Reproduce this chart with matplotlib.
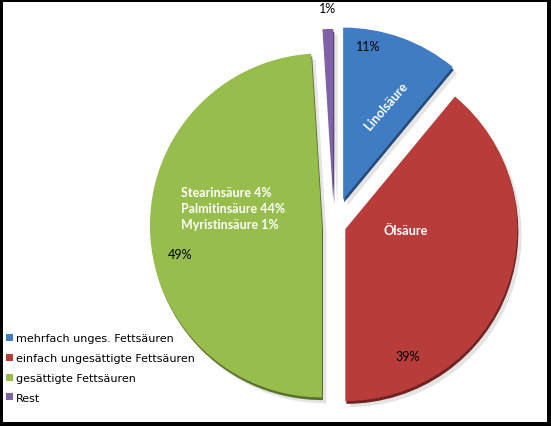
import matplotlib.pyplot as plt
import matplotlib.patches as mpatches
from matplotlib.colors import to_rgb

# data
shares = [11, 39, 49, 1]
legend_labels = ["mehrfach unges. Fettsäuren", "einfach ungesättigte Fettsäuren",
                 "gesättigte Fettsäuren", "Rest"]
pct_labels = ["11%", "39%", "49%", "1%"]
colors = ["#3f7cc4", "#b83c3a", "#97bd4c", "#8062a8"]
explode = [0.157, 0.07, 0.07, 0.14]
green_detail = "Stearinsäure 4%\nPalmitinsäure 44%\nMyristinsäure 1%"

W, H = 551, 427
CX, CY, R = 334, 226, 172  # pie centre / radius in pixels


def px(x, y):
    # pixel position (from top left) -> data coords
    return (x - CX) / R, (CY - y) / R


fig = plt.figure(figsize=(W / 100, H / 100), dpi=100)
fig.patch.set_facecolor("black")
fig.patches.append(mpatches.Rectangle((3 / W, 1 - 423 / H), 544 / W, 420 / H,
                                      transform=fig.transFigure, facecolor="white",
                                      edgecolor="none", zorder=-10))

ax = fig.add_axes([0, 0, 1, 1])
ax.set_facecolor("none")
wedges, _ = ax.pie(shares, colors=colors, explode=explode, startangle=90,
                   counterclock=False, radius=1,
                   wedgeprops=dict(linewidth=0, zorder=3))

# dark rim + soft shadow to mimic the 3D look
for w in wedges:
    c = to_rgb(w.get_facecolor())
    dark = tuple(v * 0.6 for v in c)
    th1, th2 = w.theta1, w.theta2
    cen = w.center
    rim = mpatches.Wedge((cen[0] + 0.006, cen[1] - 0.016), w.r, th1, th2,
                         facecolor=dark, edgecolor="none", zorder=2)
    sh = mpatches.Wedge((cen[0] + 0.025, cen[1] - 0.035), w.r, th1, th2,
                        facecolor="#e4e4e4", edgecolor="none", zorder=1)
    ax.add_patch(sh)
    ax.add_patch(rim)

ax.set_xlim(-CX / R, (W - CX) / R)
ax.set_ylim(-(H - CY) / R, CY / R)
ax.set_aspect("auto")
ax.axis("off")

fnt = ["Lato", "DejaVu Sans"]
ax.text(*px(368, 47), pct_labels[0], fontsize=9, ha="center", va="center", family=fnt, zorder=5)
ax.text(*px(408, 357), pct_labels[1], fontsize=9, ha="center", va="center", family=fnt, zorder=5)
ax.text(*px(180, 255), pct_labels[2], fontsize=9, ha="center", va="center", family=fnt, zorder=5)
ax.text(*px(328, 9), pct_labels[3], fontsize=9, ha="center", va="center", family=fnt, zorder=5)

ax.text(*px(386, 106), "Linolsäure", fontsize=9.2, color="white", weight="bold",
        rotation=49, ha="center", va="center", family=fnt, zorder=5)
ax.text(*px(406, 231), "Ölsäure", fontsize=9.2, color="white", weight="bold",
        ha="center", va="center", family=fnt, zorder=5)
ax.text(*px(181, 209), green_detail, fontsize=9, color="white", weight="bold",
        ha="left", va="center", linespacing=1.4, family=fnt, zorder=5)

leg = ax.legend(wedges, legend_labels, loc="lower left",
                bbox_to_anchor=(4 / W, 1 - 406 / H), bbox_transform=fig.transFigure,
                frameon=False, fontsize=8, handlelength=0.6, handleheight=0.6,
                handletextpad=0.3, labelspacing=0.88, borderpad=0.2, borderaxespad=0)
for t in leg.get_texts():
    t.set_family(["DejaVu Sans"])

fig.savefig("out.png", dpi=100, facecolor=fig.get_facecolor())
